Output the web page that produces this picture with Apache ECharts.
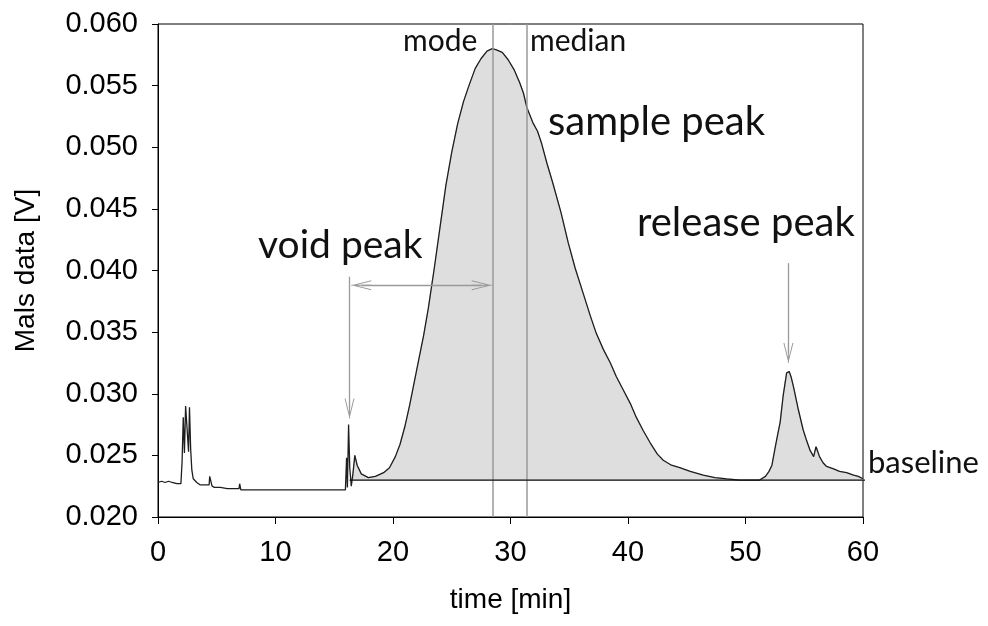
<!DOCTYPE html>
<html><head><meta charset="utf-8">
<script src="https://cdn.jsdelivr.net/npm/echarts@6/dist/echarts.min.js"></script>
<style>html,body{margin:0;padding:0;background:#fff}#c{width:988px;height:626px}</style>
</head><body><div id="c"></div>
<script>
// ---- data ----
const timeMin = [
  0.0,0.3,0.6,0.9,1.2,1.6,1.95,2.05,2.15,2.25,2.35,2.5,2.6,2.68,2.78,2.88,3.0,3.3,3.6,4.0,
  4.35,4.4,4.5,4.6,4.8,5.3,5.9,6.5,6.9,6.95,7.05,8,9,10,11,12,13,14,15,15.95,
  16.05,16.12,16.22,16.32,16.45,16.6,16.75,16.95,17.3,17.9,18.5,19.2,19.7,20.2,20.6,21.0,21.4,21.8,22.2,22.6,
  23.0,23.5,24.0,24.5,25.0,25.5,26.0,26.5,27.0,27.5,28.0,28.45,28.8,29.3,29.8,30.3,30.8,31.1,31.4,31.9,
  32.3,32.65,33.1,33.6,34.3,34.9,35.5,36.2,36.8,37.3,37.9,38.5,39.0,39.6,40.2,40.7,41.3,41.9,42.5,43.0,
  43.7,44.4,45.3,46.4,47.4,48.4,49.5,50.5,51.2,51.7,52.0,52.25,52.5,52.7,52.95,53.2,53.5,53.72,53.9,54.1,
  54.5,54.9,55.2,55.5,55.8,56.0,56.1,56.3,56.6,56.9,57.5,58.0,58.6,59.2,59.6,60.0
];
const malsV = [
  0.0228,0.0229,0.0228,0.0229,0.0228,0.0227,0.0227,0.0245,0.0281,0.0252,0.0290,0.0289,0.0253,0.0289,0.0255,0.0238,0.0231,0.0228,0.0226,0.0226,
  0.0226,0.0233,0.0232,0.0225,0.0224,0.0224,0.0223,0.0223,0.0223,0.0227,0.0222,0.0222,0.0222,0.0222,0.0222,0.0222,0.0222,0.0222,0.0222,0.0222,
  0.0248,0.0224,0.0275,0.0240,0.0225,0.0236,0.0250,0.0242,0.0235,0.0232,0.0233,0.0236,0.0240,0.0249,0.0259,0.0273,0.0290,0.0309,0.0328,0.0347,
  0.0369,0.0401,0.0435,0.0469,0.0496,0.0519,0.0537,0.0551,0.0564,0.0572,0.0578,0.0580,0.0579,0.0577,0.0571,0.0563,0.0552,0.0544,0.0532,0.0520,
  0.0513,0.0503,0.0487,0.0471,0.0447,0.0423,0.0402,0.0381,0.0363,0.0349,0.0336,0.0325,0.0314,0.0303,0.0292,0.0281,0.0270,0.0260,0.0251,0.0246,
  0.0242,0.0240,0.0237,0.0234,0.0232,0.0231,0.0230,0.0230,0.0230,0.0233,0.0237,0.0242,0.0255,0.0265,0.0277,0.0298,0.0317,0.0318,0.0313,0.0305,
  0.0287,0.0271,0.0262,0.0254,0.0249,0.0257,0.0256,0.0249,0.0244,0.0241,0.0239,0.0237,0.0236,0.0234,0.0233,0.0231
];
const baselineV = 0.023;
const baselineRange = [16.3, 62.1];
const fillFrom = 16.6;
const modeTime = 28.45;
const medianTime = 31.4;
const xTickValues = [0, 10, 20, 30, 40, 50, 60];
const yTickValues = [0.020, 0.025, 0.030, 0.035, 0.040, 0.045, 0.050, 0.055, 0.060];
// annotation arrows: [fromTime, fromV, toTime, toV]
const voidDrop = [16.3, 0.0395, 16.3, 0.0288];
const voidSpan = [17.3, 0.0388, 27.55, 0.0388];
const releaseDrop = [53.65, 0.0406, 53.65, 0.0333];

// ---- build ----
const curve = timeMin.map((t, i) => [t, malsV[i]]);
const fillPts = curve.filter(p => p[0] >= fillFrom);

const ARROW = 'path://M0,20 L5,0 L10,20 L9,20 L5,4 L1,20 Z M4.5,0 L5.5,0 L5.5,20 L4.5,20 Z';
const GRAY = '#9a9a9a';
function arrowLine(a, both) {
  return [
    {coord: [a[0], a[1]], symbol: both ? ARROW : 'none', symbolSize: [10, 20]},
    {coord: [a[2], a[3]], symbol: ARROW, symbolSize: [10, 20]}
  ];
}

const chart = echarts.init(document.getElementById('c'), null, {renderer: 'canvas'});
const axisFont = {fontFamily: '"Liberation Sans", Arial, sans-serif', fontSize: 29, color: '#000'};
const annFont = '"Lato", "Open Sans", sans-serif';

chart.setOption({
  animation: false,
  backgroundColor: '#fff',
  grid: {left: 158, right: 125, top: 24, bottom: 109, show: true, borderColor: '#000', borderWidth: 1, backgroundColor: 'transparent'},
  xAxis: {
    type: 'value', min: xTickValues[0], max: xTickValues[xTickValues.length - 1], interval: 10,
    name: 'time [min]', nameLocation: 'middle', nameGap: 69,
    nameTextStyle: Object.assign({}, axisFont, {fontSize: 28}),
    axisLine: {lineStyle: {color: '#000', width: 1}},
    axisTick: {show: true, length: 7, lineStyle: {color: '#000'}},
    axisLabel: Object.assign({margin: 21}, axisFont),
    splitLine: {show: false}
  },
  yAxis: {
    type: 'value', min: yTickValues[0], max: yTickValues[yTickValues.length - 1], interval: 0.005,
    name: 'Mals data [V]', nameLocation: 'middle', nameGap: 118, nameRotate: 90,
    nameTextStyle: Object.assign({}, axisFont, {fontSize: 28}),
    axisLine: {show: true, lineStyle: {color: '#000', width: 1}},
    axisTick: {show: true, length: 6, lineStyle: {color: '#000'}},
    axisLabel: Object.assign({margin: 20, formatter: v => v.toFixed(3)}, axisFont),
    splitLine: {show: false}
  },
  series: [
    {
      name: 'fill', type: 'custom', data: fillPts, silent: true, z: 1,
      encode: {x: 0, y: 1},
      renderItem: function (params, api) {
        if (params.dataIndex !== 0) return null;
        const pts = fillPts.map(p => api.coord(p));
        pts.push(api.coord([fillPts[fillPts.length - 1][0], baselineV]));
        pts.push(api.coord([fillPts[0][0], baselineV]));
        return {type: 'polygon', shape: {points: pts}, style: {fill: '#dedede', stroke: '#c8c8c8', lineWidth: 1}};
      }
    },
    {
      name: 'refLines', type: 'line', data: [], silent: true, z: 2,
      markLine: {
        silent: true, symbol: 'none', label: {show: false},
        lineStyle: {color: GRAY, width: 1.5, type: 'solid'},
        data: [{xAxis: modeTime}, {xAxis: medianTime}]
      }
    },
    {
      name: 'curve', type: 'line', data: curve, symbol: 'none', z: 4,
      lineStyle: {color: '#1e1e1e', width: 1.3}, silent: true
    },
    {
      name: 'baseline', type: 'line', clip: false, symbol: 'none', z: 5, silent: true,
      data: [[baselineRange[0], baselineV], [baselineRange[1], baselineV]],
      lineStyle: {color: '#111', width: 1.2},
      markLine: {
        silent: true, label: {show: false},
        lineStyle: {color: GRAY, width: 1.3, type: 'solid'},
        itemStyle: {color: GRAY},
        data: [arrowLine(voidDrop, false), arrowLine(voidSpan, true), arrowLine(releaseDrop, false)]
      }
    }
  ],
  graphic: [
    {type: 'text', z: 100, left: 258, top: 226, style: {text: 'void peak', font: '39px ' + annFont, fill: '#111'}},
    {type: 'text', z: 100, left: 548, top: 102, style: {text: 'sample peak', font: '40px ' + annFont, fill: '#111'}},
    {type: 'text', z: 100, left: 637, top: 203, style: {text: 'release peak', font: '40px ' + annFont, fill: '#111'}},
    {type: 'text', z: 100, left: 403, top: 26, style: {text: 'mode', font: '30px ' + annFont, fill: '#111'}},
    {type: 'text', z: 100, left: 530, top: 26, style: {text: 'median', font: '30px ' + annFont, fill: '#111'}},
    {type: 'text', z: 100, left: 868, top: 447, style: {text: 'baseline', font: '31px ' + annFont, fill: '#111'}}
  ]
});
</script></body></html>
